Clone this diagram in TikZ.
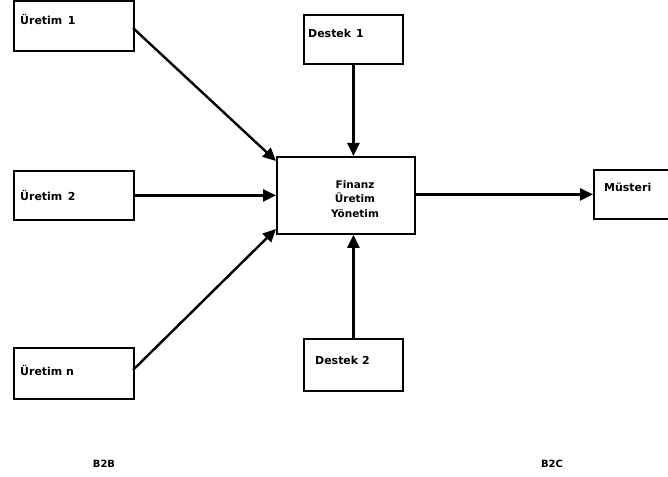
\documentclass[tikz,border=0pt]{standalone}
\usepackage{fontspec}
\setmainfont{DejaVu Sans}
\usetikzlibrary{arrows.meta}
\begin{document}
\begin{tikzpicture}[x=1bp,y=-1bp,
  box/.style={draw,line width=1.8bp,inner sep=0pt},
  lbl/.style={font=\bfseries\fontsize{11}{12}\selectfont,anchor=west,inner sep=0pt},
  conn/.style={line width=2.4bp,-{Triangle[length=13bp,width=12bp]}}]
\useasboundingbox (0,0) rectangle (668,477);
\node[box,minimum width=120bp,minimum height=50bp,anchor=north west] (u1) at (13,0) {};
\node[lbl] (u1t) at (20,20) {Üretim\hspace{0.5em}1};
\node[box,minimum width=120bp,minimum height=49bp,anchor=north west] (u2) at (13,170) {};
\node[lbl] (u2t) at (20,195) {Üretim\hspace{0.5em}2};
\node[box,minimum width=120bp,minimum height=51bp,anchor=north west] (un) at (13,347) {};
\node[lbl] (unt) at (20,370) {Üretim n};
\node[box,minimum width=99bp,minimum height=49bp,anchor=north west] (d1) at (303,14) {};
\node[lbl] (d1t) at (308,33) {Destek\hspace{0.45em}1};
\node[box,minimum width=99bp,minimum height=52bp,anchor=north west] (d2) at (303,338) {};
\node[lbl] (d2t) at (315,360) {Destek 2};
\node[box,minimum width=138bp,minimum height=77bp,anchor=north west] (f) at (276,156) {};
\node[font=\bfseries\fontsize{10.5}{14.5}\selectfont,align=center,inner sep=0pt] (ft) at (355,199) {Finanz\\Üretim\\Yönetim};
\node[box,minimum width=80bp,minimum height=49bp,anchor=north west] (m) at (593,169) {};
\node[lbl] (mt) at (604,187) {Müsteri};
\node[lbl,font=\bfseries\fontsize{10}{12}\selectfont,anchor=center] (b2b) at (104,464) {B2B};
\node[lbl,font=\bfseries\fontsize{10}{12}\selectfont,anchor=center] (b2c) at (552,464) {B2C};
\coordinate (a1s) at (133,28);
\coordinate (a1e) at (276,161);
\coordinate (ans) at (133,370);
\coordinate (ane) at (276,229);
\draw[conn] (a1s) -- (a1e);
\draw[conn] (u2.east) -- (u2.east -| f.west);
\draw[conn] (ans) -- (ane);
\draw[conn] (d1.south) -- (d1.south |- f.north);
\draw[conn] (d2.north) -- (d2.north |- f.south);
\draw[conn] (f.east |- m.west) -- (m.west);
\end{tikzpicture}
\end{document}
